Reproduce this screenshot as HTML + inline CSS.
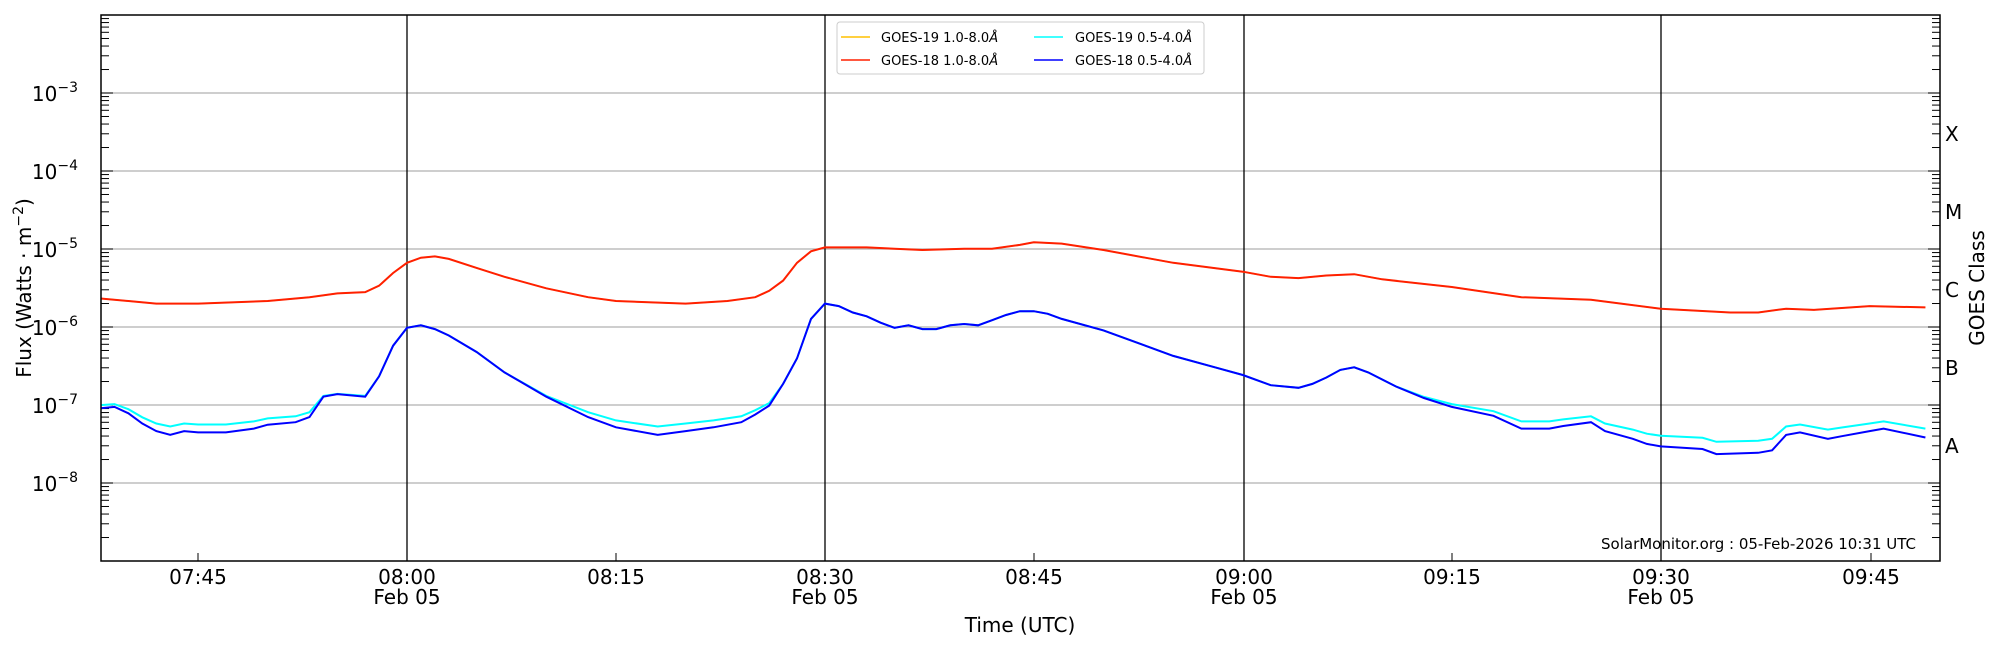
<!DOCTYPE html>
<html><head><meta charset="utf-8"><style>
html,body{margin:0;padding:0;background:#fff}
svg{display:block;font-family:"DejaVu Sans","Liberation Sans",sans-serif}
</style></head><body>
<svg id="s" width="2000" height="650" viewBox="0 0 2000 650" xmlns="http://www.w3.org/2000/svg">
<rect width="2000" height="650" fill="#fff"/>
<g id="grid"></g>
<g id="vl" stroke="#000" stroke-width="1.3">
<line x1="407" y1="15" x2="407" y2="561"/><line x1="825" y1="15" x2="825" y2="561"/>
<line x1="1244" y1="15" x2="1244" y2="561"/><line x1="1661" y1="15" x2="1661" y2="561"/>
</g>
<g id="ticks" stroke="#000" stroke-width="1"></g>
<polyline id="py" fill="none" stroke="#ffc000" stroke-width="1.5"/>
<polyline id="pr" fill="none" stroke="#ff2000" stroke-width="2"/>
<polyline id="pc" fill="none" stroke="#00ffff" stroke-width="2"/>
<polyline id="pb" fill="none" stroke="#0000ff" stroke-width="2"/>
<rect x="101" y="15" width="1839" height="546" fill="none" stroke="#000" stroke-width="1.5"/>
<g font-size="20" text-anchor="end" fill="#000">
<text x="78" y="101">10<tspan dy="-9" font-size="14">−3</tspan></text>
<text x="78" y="179">10<tspan dy="-9" font-size="14">−4</tspan></text>
<text x="78" y="257">10<tspan dy="-9" font-size="14">−5</tspan></text>
<text x="78" y="335">10<tspan dy="-9" font-size="14">−6</tspan></text>
<text x="78" y="413">10<tspan dy="-9" font-size="14">−7</tspan></text>
<text x="78" y="491">10<tspan dy="-9" font-size="14">−8</tspan></text>
</g>
<g font-size="20" text-anchor="middle" fill="#000">
<text x="198" y="584">07:45</text>
<text x="407" y="584">08:00</text><text x="407" y="604">Feb 05</text>
<text x="616" y="584">08:15</text>
<text x="825" y="584">08:30</text><text x="825" y="604">Feb 05</text>
<text x="1034" y="584">08:45</text>
<text x="1244" y="584">09:00</text><text x="1244" y="604">Feb 05</text>
<text x="1452" y="584">09:15</text>
<text x="1661" y="584">09:30</text><text x="1661" y="604">Feb 05</text>
<text x="1871" y="584">09:45</text>
<text x="1020" y="632">Time (UTC)</text>
<text transform="translate(31,288) rotate(-90)">Flux (Watts · m<tspan dy="-8" font-size="14">−2</tspan><tspan dy="8">)</tspan></text>
<text transform="translate(1984,288) rotate(-90)">GOES Class</text>
</g>
<g font-size="20" fill="#000">
<text x="1945" y="141">X</text><text x="1945" y="219">M</text>
<text x="1945" y="297">C</text><text x="1945" y="375">B</text>
<text x="1945" y="453">A</text>
</g>
<text x="1916" y="549" font-size="15" text-anchor="end" fill="#000">SolarMonitor.org : 05-Feb-2026 10:31 UTC</text>
<rect x="837" y="22" width="367" height="52" rx="3" fill="#fff" fill-opacity="0.85" stroke="#ccc"/>
<g stroke-width="1.5"><line x1="841" y1="37" x2="870" y2="37" stroke="#ffc000"/><line x1="841" y1="60" x2="870" y2="60" stroke="#ff2000"/>
<line x1="1034" y1="37" x2="1063" y2="37" stroke="#00ffff"/><line x1="1034" y1="60" x2="1063" y2="60" stroke="#0000ff"/></g>
<g font-size="13" fill="#000">
<text x="881" y="42">GOES-19 1.0-8.0<tspan font-style="italic">Å</tspan></text>
<text x="881" y="65">GOES-18 1.0-8.0<tspan font-style="italic">Å</tspan></text>
<text x="1075" y="42">GOES-19 0.5-4.0<tspan font-style="italic">Å</tspan></text>
<text x="1075" y="65">GOES-18 0.5-4.0<tspan font-style="italic">Å</tspan></text>
</g>
</svg>
<script>
var NS="http://www.w3.org/2000/svg";
function el(p,t,a){var e=document.createElementNS(NS,t);for(var k in a)e.setAttribute(k,a[k]);p.appendChild(e);}
var g=document.getElementById("grid"),tk=document.getElementById("ticks");
for(var d=0;d<7;d++){var y0=15+78*d;
 if(d>0)el(g,"line",{x1:101,x2:1940,y1:y0,y2:y0,stroke:"#b0b0b0","stroke-width":1.2});
 if(d>0){el(tk,"line",{x1:101,x2:113,y1:y0,y2:y0});el(tk,"line",{x1:1928,x2:1940,y1:y0,y2:y0});}
 for(var m=2;m<10;m++){var yy=15+78*(d+1)-78*Math.log10(m);
  el(tk,"line",{x1:101,x2:109,y1:yy,y2:yy});el(tk,"line",{x1:1932,x2:1940,y1:yy,y2:yy});}}
[198,616,1034,1452,1871].forEach(function(x){el(tk,"line",{x1:x,x2:x,y1:561,y2:553});});
// display y -> full y ; display x minutes
function X(min){return 407+(min-22)*13.93;}
function Y(yd){return yd*1.2755;}
var red=[[0,234],[2,236],[4,238],[7,238],[12,236],[15,233],[17,230],[19,229],[20,224],[21,214],[22,206],[23,202],[24,201],[25,203],[27,210],[29,217],[32,226],[35,233],[37,236],[42,238],[45,236],[47,233],[48,228],[49,220],[50,206],[51,197],[52,194],[55,194],[57,195],[59,196],[62,195],[64,195],[66,192],[67,190],[69,191],[72,196],[75,202],[77,206],[82,213],[84,217],[86,218],[88,216],[90,215],[92,219],[97,225],[102,233],[107,235],[112,242],[117,245],[119,245],[121,242],[123,243],[127,240],[131,241]];
var blue=[[0,320],[1,319],[2,324],[3,332],[4,338],[5,341],[6,338],[7,339],[9,339],[11,336],[12,333],[14,331],[15,327],[16,311],[17,309],[19,311],[20,295],[21,271],[22,257],[23,255],[24,258],[25,263],[27,276],[29,292],[32,311],[35,327],[37,335],[40,341],[42,338],[44,335],[46,331],[47,325],[48,318],[49,301],[50,281],[51,250],[52,238],[53,240],[54,245],[55,248],[56,253],[57,257],[58,255],[59,258],[60,258],[61,255],[62,254],[63,255],[64,251],[65,247],[66,244],[67,244],[68,246],[69,250],[72,259],[75,271],[77,279],[80,288],[82,294],[84,302],[86,304],[87,301],[88,296],[89,290],[90,288],[91,292],[93,303],[95,312],[97,319],[100,326],[102,336],[104,336],[105,334],[107,331],[108,338],[110,344],[111,348],[112,350],[115,352],[116,356],[119,355],[120,353],[121,341],[122,339],[124,344],[125,342],[127,338],[128,336],[131,343]];
function pts(a,f){return a.map(function(p){return X(p[0]).toFixed(1)+","+Y(f?f(p[1]):p[1]).toFixed(1);}).join(" ");}
document.getElementById("pr").setAttribute("points",pts(red));
document.getElementById("py").setAttribute("points",pts(red));
document.getElementById("pb").setAttribute("points",pts(blue));
document.getElementById("pc").setAttribute("points",pts(blue,function(y){return y-Math.max(0,(y-308)*0.2);}));
</script>
</body></html>
